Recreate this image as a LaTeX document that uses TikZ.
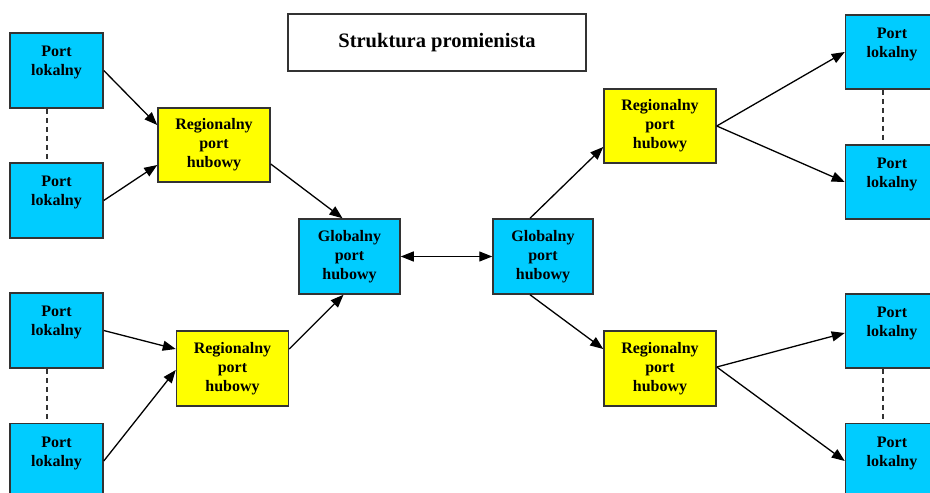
\documentclass[tikz,border=0pt]{standalone}
\usepackage{fontspec}
\setmainfont{Liberation Serif}
\usetikzlibrary{arrows.meta}
\definecolor{portcyan}{RGB}{0,204,255}
\definecolor{hubyellow}{RGB}{255,255,0}
\definecolor{edgegray}{RGB}{51,51,51}
\begin{document}
\begin{tikzpicture}[x=1pt,y=-1pt,
  box/.style={draw=edgegray,line width=1.5pt,inner sep=0pt,align=center,
    font=\fontsize{16}{19}\selectfont\bfseries},
  portbox/.style={box,fill=portcyan,minimum width=93pt,minimum height=75pt},
  hubbox/.style={box,fill=hubyellow,minimum width=112pt,minimum height=74pt},
  globbox/.style={box,fill=portcyan,minimum width=101pt,minimum height=75pt},
  conn/.style={line width=1.3pt,-{Triangle[length=13pt,width=10pt]}},
  dconn/.style={line width=1.3pt,{Triangle[length=13pt,width=10pt]}-{Triangle[length=13pt,width=10pt]}},
  dash line/.style={draw=edgegray,line width=1.3pt,dash pattern=on 5pt off 4pt}]
\clip (0,0) rectangle (930,493);
\fill[white] (0,0) rectangle (930,493);

\node[box,fill=white,minimum width=298pt,minimum height=57pt,font=\fontsize{20.5}{24}\selectfont\bfseries] (title) at (437,42.5) {Struktura promienista};

\node[portbox] (pl1) at (56.5,70.5) {Port\\lokalny\\~};
\node[portbox] (pl2) at (56.5,200.5) {Port\\lokalny\\~};
\node[portbox] (pl3) at (56.5,330.5) {Port\\lokalny\\~};
\node[portbox] (pl4) at (56.5,461) {Port\\lokalny\\~};

\node[hubbox] (rl1) at (214,145) {Regionalny\\port\\hubowy};
\node[hubbox,minimum height=75pt] (rl2) at (232.5,368.5) {Regionalny\\port\\hubowy};

\node[globbox] (gl) at (349.5,256.5) {Globalny\\port\\hubowy};
\node[globbox,minimum width=100pt] (gr) at (543,256.5) {Globalny\\port\\hubowy};

\node[hubbox] (rr1) at (660,126) {Regionalny\\port\\hubowy};
\node[hubbox,minimum height=75pt] (rr2) at (660,368.5) {Regionalny\\port\\hubowy};

\node[portbox,minimum height=74pt] (pr1) at (892,52) {Port\\lokalny\\~};
\node[portbox,minimum height=74pt] (pr2) at (892,182) {Port\\lokalny\\~};
\node[portbox,minimum height=74pt] (pr3) at (892,331) {Port\\lokalny\\~};
\node[portbox] (pr4) at (892,461) {Port\\lokalny\\~};

% dashed links
\draw[dash line] ([xshift=-9.5pt]pl1.south) -- ([xshift=-9.5pt]pl2.north);
\draw[dash line] ([xshift=-9.5pt]pl3.south) -- ([xshift=-9.5pt]pl4.north);
\draw[dash line] ([xshift=-9pt]pr1.south) -- ([xshift=-9pt]pr2.north);
\draw[dash line] ([xshift=-9pt]pr3.south) -- ([xshift=-9pt]pr4.north);

% left side
\draw[conn] (pl1.east) -- ([yshift=20pt]rl1.west);
\draw[conn] (pl2.east) -- ([yshift=-20pt]rl1.west);
\draw[conn] ([yshift=-19pt]rl1.east) -- ([xshift=-7pt]gl.north);
\draw[conn] (pl3.east) -- ([yshift=19.5pt]rl2.west);
\draw[conn] (pl4.east) -- ([yshift=-1.5pt]rl2.west);
\draw[conn] ([yshift=19.5pt]rl2.east) -- ([xshift=-6pt]gl.south);

% centre
\draw[dconn] (gl.east) -- (gr.west);

% right side
\draw[conn] ([xshift=-13pt]gr.north) -- ([yshift=-21pt]rr1.west);
\draw[conn] ([xshift=-13pt]gr.south) -- ([yshift=19.5pt]rr2.west);
\draw[conn] (rr1.east) -- (pr1.west);
\draw[conn] (rr1.east) -- (pr2.west);
\draw[conn] ([yshift=1.5pt]rr2.east) -- ([yshift=-2pt]pr3.west);
\draw[conn] ([yshift=1.5pt]rr2.east) -- (pr4.west);
\end{tikzpicture}
\end{document}
